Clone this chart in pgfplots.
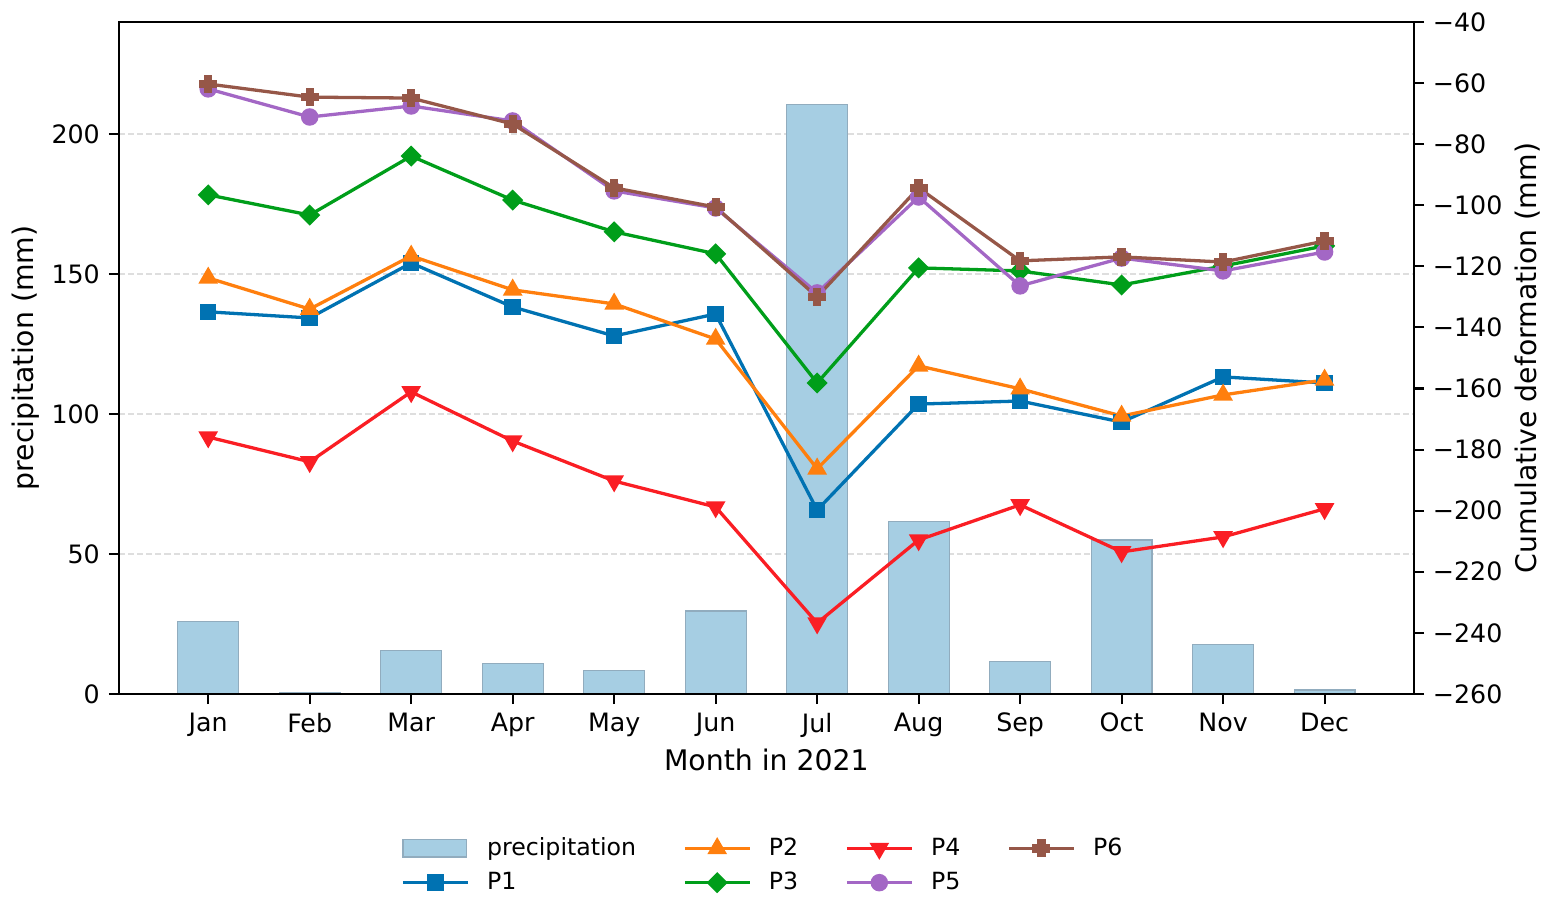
\documentclass[border=0pt]{standalone}
\usepackage{fontspec}
\setmainfont{DejaVu Sans}
\usepackage{pgfplots}
\usepackage{pgfplotstable}
\pgfplotsset{compat=1.18}

\definecolor{cbar}{RGB}{166,206,227}
\definecolor{cbaredge}{RGB}{145,172,190}
\definecolor{cP1}{RGB}{0,114,178}
\definecolor{cP2}{RGB}{255,127,14}
\definecolor{cP3}{RGB}{0,158,26}
\definecolor{cP4}{RGB}{250,30,36}
\definecolor{cP5}{RGB}{163,103,197}
\definecolor{cP6}{RGB}{150,87,72}
\definecolor{cgrid}{RGB}{222,222,222}

\pgfdeclareplotmark{fatplus}{%
  \pgfpathmoveto{\pgfpoint{-\pgfplotmarksize}{-0.34\pgfplotmarksize}}%
  \pgfpathlineto{\pgfpoint{-0.34\pgfplotmarksize}{-0.34\pgfplotmarksize}}%
  \pgfpathlineto{\pgfpoint{-0.34\pgfplotmarksize}{-\pgfplotmarksize}}%
  \pgfpathlineto{\pgfpoint{0.34\pgfplotmarksize}{-\pgfplotmarksize}}%
  \pgfpathlineto{\pgfpoint{0.34\pgfplotmarksize}{-0.34\pgfplotmarksize}}%
  \pgfpathlineto{\pgfpoint{\pgfplotmarksize}{-0.34\pgfplotmarksize}}%
  \pgfpathlineto{\pgfpoint{\pgfplotmarksize}{0.34\pgfplotmarksize}}%
  \pgfpathlineto{\pgfpoint{0.34\pgfplotmarksize}{0.34\pgfplotmarksize}}%
  \pgfpathlineto{\pgfpoint{0.34\pgfplotmarksize}{\pgfplotmarksize}}%
  \pgfpathlineto{\pgfpoint{-0.34\pgfplotmarksize}{\pgfplotmarksize}}%
  \pgfpathlineto{\pgfpoint{-0.34\pgfplotmarksize}{0.34\pgfplotmarksize}}%
  \pgfpathlineto{\pgfpoint{-\pgfplotmarksize}{0.34\pgfplotmarksize}}%
  \pgfpathclose
  \pgfusepathqfillstroke
}

\pgfplotsset{
  barlegend/.style={legend image code/.code={\draw[##1] (0pt,-3.4pt) rectangle (25pt,3.4pt);}},
  linelegend/.style={legend image code/.code={\draw[mark repeat=2,mark phase=2,##1] plot coordinates {(0pt,0pt)(12.8pt,0pt)(25.6pt,0pt)};}},
}

\pgfplotstableread{
m    P1      P2      P3      P4      P5      P6      prec
0   -134.9  -123.8  -96.6   -175.9  -61.9   -60.3   26.0
1   -136.9  -134.0  -103.2  -184.0  -71.1   -64.6   0.6
2   -118.9  -116.6  -83.9   -161.1  -67.5   -64.9   15.5
3   -133.3  -127.7  -98.3   -177.2  -72.4   -73.4   11.0
4   -142.8  -132.3  -108.7  -190.3  -95.3   -94.3   8.4
5   -135.6  -143.8  -115.9  -198.8  -100.9  -100.6  29.6
6   -199.8  -186.3  -158.2  -236.8  -128.7  -130.0  210.6
7   -165.1  -152.6  -120.5  -209.6  -97.3   -94.3   61.7
8   -164.1  -160.1  -121.5  -198.1  -126.4  -118.2  11.7
9   -171.0  -169.0  -126.1  -213.5  -117.3  -116.9  55.0
10  -156.2  -162.1  -119.9  -208.6  -121.5  -118.6  17.5
11  -158.2  -157.2  -113.3  -199.4  -115.3  -111.7  1.4
}\datatable

\newcommand{\tickfont}{\fontsize{10}{12}\selectfont}
\newcommand{\labfont}{\fontsize{11.2}{13.4}\selectfont}
\newcommand{\legfont}{\fontsize{9.35}{11.2}\selectfont}

\begin{document}
\begin{tikzpicture}
\useasboundingbox (-47pt,-81.4pt) rectangle (566.1pt,274.3pt);
\pgfplotsset{
  common/.style={
    at={(0pt,0pt)}, anchor=south west,
    scale only axis, width=511.9pt, height=265.6pt,
    xmin=-0.88, xmax=11.88,
    axis line style={black, line width=0.8pt},
    tick style={black, line width=0.8pt},
    major tick length=4pt, tick align=outside,
    /pgf/number format/assume math mode=true,
    ticklabel style={font=\tickfont},
    label style={font=\labfont},
  }
}
\begin{axis}[common,
  ymin=0, ymax=240,
  ytick={0,50,100,150,200},
  xtick={0,...,11},
  xticklabels={Jan,Feb,Mar,Apr,May,Jun,Jul,Aug,Sep,Oct,Nov,Dec},
  xtick pos=bottom, ytick pos=left,
  ymajorgrids,
  major grid style={cgrid, line width=0.5pt, dash pattern=on 2.4pt off 1.2pt},
  xlabel={Month in 2021},
  xlabel style={at={(axis description cs:0.5,-0.1145)}, anchor=base},
  ylabel={precipitation (mm)},
  ylabel style={at={(axis description cs:-0.0719,0.5)}, anchor=center},
]
\addplot[ybar, bar width=0.6, fill=cbar, draw=cbaredge, line width=0.45pt]
  table[x=m, y=prec] {\datatable};
\end{axis}
\begin{axis}[common,
  ymin=-260, ymax=-40,
  ytick={-260,-240,...,-40},
  yticklabels={−260,−240,−220,−200,−180,−160,−140,−120,−100,−80,−60,−40},
  xtick=\empty,
  ytick pos=right, yticklabel pos=right,
  ylabel={Cumulative deformation (mm)},
  ylabel style={at={(axis description cs:1.088,0.5)}, anchor=center},
  legend columns=4,
  linelegend,
  legend style={at={(0.4985,-0.198)}, anchor=north, draw=none, fill=none,
    font=\legfont, row sep=1pt,
    nodes={inner sep=2pt},
    /tikz/every odd column/.append style={column sep=5pt},
    /tikz/every even column/.append style={column sep=16.6pt}},
  legend cell align=left,
  every axis plot/.append style={line width=1.3pt},
]
\addplot[cP1, mark=square*, mark size=2.6pt, mark options={solid, fill=cP1}, forget plot]
  table[x=m, y=P1] {\datatable};
\addplot[cP2, mark=triangle*, mark size=3.2pt, mark options={solid, fill=cP2}, forget plot]
  table[x=m, y=P2] {\datatable};
\addplot[cP3, mark=square*, mark size=2.3pt, mark options={solid, fill=cP3, rotate=45}, forget plot]
  table[x=m, y=P3] {\datatable};
\addplot[cP4, mark=triangle*, mark size=3.2pt, mark options={solid, fill=cP4, rotate=180}, forget plot]
  table[x=m, y=P4] {\datatable};
\addplot[cP5, mark=*, mark size=2.8pt, mark options={solid, fill=cP5}, forget plot]
  table[x=m, y=P5] {\datatable};
\addplot[cP6, mark=fatplus, mark size=2.9pt, mark options={solid, fill=cP6}, forget plot]
  table[x=m, y=P6] {\datatable};
\addlegendimage{fill=cbar, draw=cbaredge, line width=0.45pt, barlegend}
\addlegendentry{precipitation}
\addlegendimage{cP2, line width=1.3pt, mark=triangle*, mark size=3.2pt, mark options={solid, fill=cP2}}
\addlegendentry{P2}
\addlegendimage{cP4, line width=1.3pt, mark=triangle*, mark size=3.2pt, mark options={solid, fill=cP4, rotate=180}}
\addlegendentry{P4}
\addlegendimage{cP6, line width=1.3pt, mark=fatplus, mark size=2.9pt, mark options={solid, fill=cP6}}
\addlegendentry{P6}
\addlegendimage{cP1, line width=1.3pt, mark=square*, mark size=2.6pt, mark options={solid, fill=cP1}}
\addlegendentry{P1}
\addlegendimage{cP3, line width=1.3pt, mark=square*, mark size=2.3pt, mark options={solid, fill=cP3, rotate=45}}
\addlegendentry{P3}
\addlegendimage{cP5, line width=1.3pt, mark=*, mark size=2.8pt, mark options={solid, fill=cP5}}
\addlegendentry{P5}
\end{axis}
\end{tikzpicture}
\end{document}
